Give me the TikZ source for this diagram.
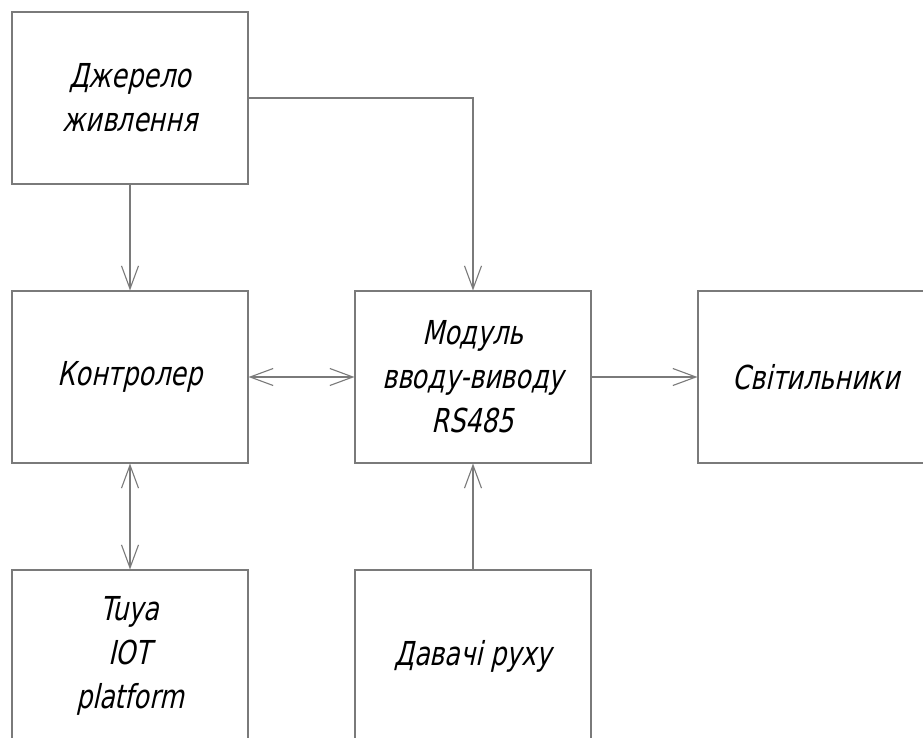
\documentclass[tikz,border=0pt]{standalone}
\usepackage{fontspec}
\usetikzlibrary{arrows.meta}
\newfontfamily\gost[FakeStretch=0.77,FakeSlant=0.22]{DejaVu Sans}
\definecolor{linegray}{HTML}{7A7A7A}
\begin{document}
\begin{tikzpicture}[x=1pt,y=-1pt,
  blk/.style={draw=linegray, line width=1.1pt, minimum width=236pt, minimum height=172pt,
    inner sep=0pt, align=center, font=\gost\fontsize{33}{44}\selectfont},
  conn/.style={draw=linegray, line width=1.1pt, -{Straight Barb[length=23pt,width=17pt]}},
  bconn/.style={draw=linegray, line width=1.1pt, {Straight Barb[length=23pt,width=17pt]}-{Straight Barb[length=23pt,width=17pt]}}]
\useasboundingbox (0,0) rectangle (923,738);
\clip (0,0) rectangle (923,738);
\fill[white] (0,0) rectangle (923,738);
\node[blk] (src)  at (130,98)  {Джерело\\живлення};
\node[blk] (ctrl) at (130,377) {Контролер};
\node[blk] (mod)  at (473,377) {Модуль\\вводу-виводу\\RS485};
\node[blk] (lamp) at (816,377) {Світильники};
\node[blk] (tuya) at (130,656) {Tuya\\IOT\\platform};
\node[blk] (sens) at (473,656) {Давачі руху};
\draw[conn] (src.south) -- (ctrl.north);
\draw[conn] (src.east) -| (mod.north);
\draw[bconn] (ctrl.east) -- (mod.west);
\draw[conn] (mod.east) -- (lamp.west);
\draw[bconn] (ctrl.south) -- (tuya.north);
\draw[conn] (sens.north) -- (mod.south);
\end{tikzpicture}
\end{document}
